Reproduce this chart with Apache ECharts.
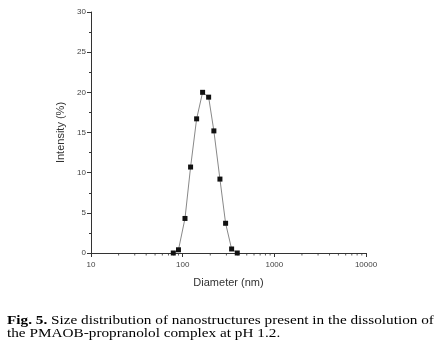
<!DOCTYPE html>
<html>
<head>
<meta charset="utf-8">
<script src="https://cdn.jsdelivr.net/npm/echarts@6/dist/echarts.min.js"></script>
<style>
html, body { margin: 0; padding: 0; background: #fff; }
#chart { width: 439px; height: 346px; }
</style>
</head>
<body>
<div id="chart"></div>
<script>
// diameter (nm) and intensity (%)
var diameters = [79, 90, 106, 122, 142, 165, 192, 219, 255, 294, 342, 394];
var intensity = [0, 0.4, 4.3, 10.7, 16.7, 20.0, 19.4, 15.2, 9.2, 3.7, 0.5, 0];
var minorTicksX = [20, 30, 40, 50, 60, 70, 80, 90,
	200, 300, 400, 500, 600, 700, 800, 900,
	2000, 3000, 4000, 5000, 6000, 7000, 8000, 9000];

var myChart = echarts.init(document.getElementById('chart'));

var axisGray = '#333';
var option = {
	animation: false,
	graphic: [
		{
			// caption, stretched horizontally like the scanned figure
			type: 'text',
			x: 7,
			y: 314,
			scaleX: 1.22,
			style: {
				text: '{b|Fig. 5.} Size distribution of nanostructures present in the dissolution of\nthe PMAOB-propranolol complex at pH 1.2.',
				fontFamily: 'Liberation Serif',
				fontSize: 12.5,
				lineHeight: 13,
				fill: '#000',
				rich: {
					b: { fontFamily: 'Liberation Serif', fontSize: 12.5, fontWeight: 'bold', fill: '#000', lineHeight: 13 }
				}
			}
		}
	],
	grid: {
		left: 91,
		right: 73,
		top: 12,
		bottom: 93
	},
	xAxis: {
		type: 'log',
		logBase: 10,
		min: 10,
		max: 10000,
		name: 'Diameter (nm)',
		nameLocation: 'middle',
		nameGap: 24,
		nameTextStyle: { fontFamily: 'Liberation Sans', fontSize: 11, color: '#333' },
		axisLine: { lineStyle: { color: axisGray, width: 1 } },
		axisTick: { inside: false, length: 4, lineStyle: { color: axisGray } },
		axisLabel: {
			fontFamily: 'Liberation Sans', fontSize: 8, color: '#444', margin: 8,
			formatter: function (v) { return String(Math.round(v)); }
		},
		splitLine: { show: false }
	},
	yAxis: {
		type: 'value',
		min: 0,
		max: 30,
		interval: 5,
		name: 'Intensity (%)',
		nameLocation: 'middle',
		nameGap: 25,
		nameTextStyle: { fontFamily: 'Liberation Sans', fontSize: 11, color: '#333' },
		axisLine: { show: true, lineStyle: { color: axisGray, width: 1 } },
		axisTick: { show: true, length: 4, lineStyle: { color: axisGray } },
		minorTick: { show: true, splitNumber: 2, length: 2, lineStyle: { color: axisGray } },
		axisLabel: { fontFamily: 'Liberation Sans', fontSize: 8, color: '#444', margin: 5 },
		splitLine: { show: false }
	},
	series: [
		{
			name: 'intensity',
			type: 'line',
			data: diameters.map(function (d, i) { return [d, intensity[i]]; }),
			symbol: 'rect',
			symbolSize: 5,
			showAllSymbol: true,
			itemStyle: { color: '#111' },
			lineStyle: { color: '#888', width: 1 },
			z: 3
		},
		{
			name: 'minorTicks',
			type: 'scatter',
			data: minorTicksX.map(function (d) { return [d, 0]; }),
			symbol: 'rect',
			symbolSize: [1, 2],
			symbolOffset: [0, 1.5],
			itemStyle: { color: axisGray },
			silent: true,
			z: 1
		}
	]
};
myChart.setOption(option);
</script>
</body>
</html>
